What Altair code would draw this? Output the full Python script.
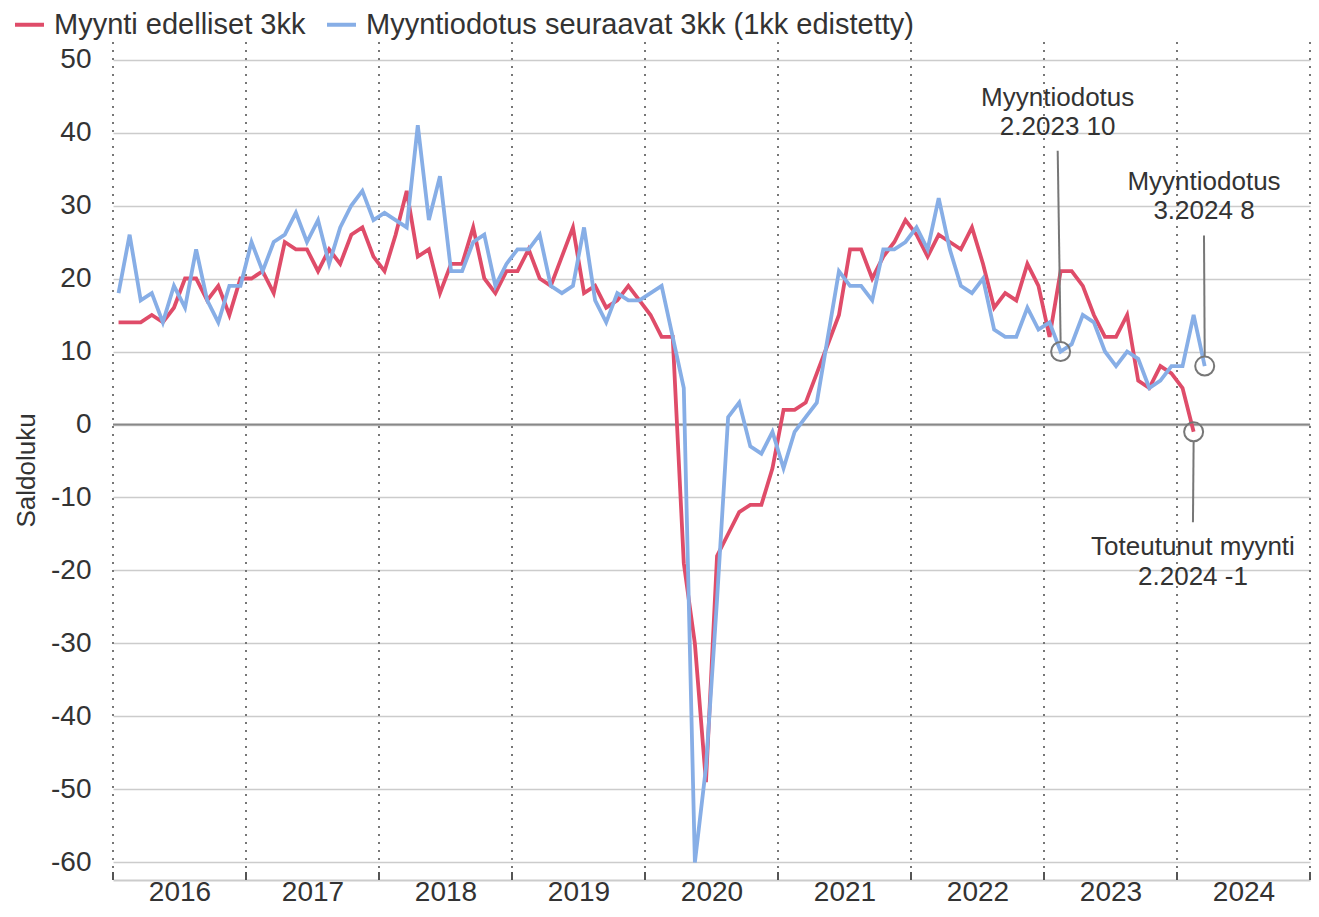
import altair as alt
import pandas as pd

# ---- data (monthly, Jan 2016 onwards) ----
red_values = [
    14, 14, 14, 15, 14, 16, 20, 20, 17, 19, 15, 20,          # 2016
    20, 21, 18, 25, 24, 24, 21, 24, 22, 26, 27, 23,          # 2017
    21, 26, 32, 23, 24, 18, 22, 22, 27, 20, 18, 21,          # 2018
    21, 24, 20, 19, 23, 27, 18, 19, 16, 17, 19, 17,          # 2019
    15, 12, 12, -19, -30, -49, -18, -15, -12, -11, -11, -6,  # 2020
    2, 2, 3, 7, 11, 15, 24, 24, 20, 23, 25, 28,              # 2021
    26, 23, 26, 25, 24, 27, 22, 16, 18, 17, 22, 19,          # 2022
    12, 21, 21, 19, 15, 12, 12, 15, 6, 5, 8, 7,              # 2023
    5, -1,                                                   # 2024
]
blue_values = [
    18, 26, 17, 18, 14, 19, 16, 24, 17, 14, 19, 19,          # 2016
    25, 21, 25, 26, 29, 25, 28, 22, 27, 30, 32, 28,          # 2017
    29, 28, 27, 41, 28, 34, 21, 21, 25, 26, 19, 22,          # 2018
    24, 24, 26, 19, 18, 19, 27, 17, 14, 18, 17, 17,          # 2019
    18, 19, 12, 5, -60, -47, -24, 1, 3, -3, -4, -1,          # 2020
    -6, -1, 1, 3, 12, 21, 19, 19, 17, 24, 24, 25,            # 2021
    27, 24, 31, 24, 19, 18, 20, 13, 12, 12, 16, 13,          # 2022
    14, 10, 11, 15, 14, 10, 8, 10, 9, 5, 6, 8,               # 2023
    8, 15, 8,                                                # 2024
]
series_names = ["Myynti edelliset 3kk", "Myyntiodotus seuraavat 3kk (1kk edistetty)"]
series_colors = ["#DF4C69", "#87AEE6"]

years = list(range(2016, 2026))
year_label_pos = [y + 0.5 for y in range(2016, 2025)]
y_ticks = list(range(-60, 60, 10))

# annotations
ann_t = [2023 + 1.5 / 12, 2024 + 2.5 / 12, 2024 + 1.5 / 12]
ann_v = [10, 8, -1]
ann_text_t = [2023.103, 2024.203, 2024.12]
ann_line_start = [11.25, 9.25, -2.25]
ann_line_end = [37.5, 25.9, -13.4]
ann_line1 = ["Myyntiodotus", "Myyntiodotus", "Toteutunut myynti"]
ann_line2 = ["2.2023 10", "3.2024 8", "2.2024 -1"]
ann_line1_v = [44.7, 33.2, -16.8]
ann_line2_v = [40.7, 29.2, -20.9]

# ---- tables ----
rows = []
for name, vals in zip(series_names, [red_values, blue_values]):
    for i, v in enumerate(vals):
        rows.append({"t": 2016 + (i + 0.5) / 12, "v": v, "s": name})
df = pd.DataFrame(rows)
df_years = pd.DataFrame({"yr": years})
df_ann = pd.DataFrame({"t": ann_t, "v": ann_v, "tt": ann_text_t,
                       "v1": ann_line_start, "v2": ann_line_end})
df_txt = pd.DataFrame({
    "tt": ann_text_t + ann_text_t,
    "v": ann_line1_v + ann_line2_v,
    "label": ann_line1 + ann_line2,
})

FONT = "Liberation Sans"
TXT = "#333333"
W, H = 1197, 838

x_scale = alt.Scale(domain=[2016, 2025.0], nice=False, zero=False)
y_scale = alt.Scale(domain=[-62.4, 52.4], nice=False, zero=False)
x_axis = alt.Axis(values=year_label_pos, labelExpr="floor(datum.value)", grid=False,
                  ticks=False, domainColor="#cccccc", domainWidth=2, labelFontSize=28,
                  labelFont=FONT, labelColor=TXT, labelPadding=12, labelBaseline="middle",
                  title=None)
y_axis = alt.Axis(values=y_ticks,
                  labelExpr="datum.value < 0 ? '-' + abs(datum.value) : '' + datum.value",
                  labelFontSize=28, labelFont=FONT, labelColor=TXT,
                  ticks=False, domain=False, gridColor="#cccccc", gridWidth=1.5,
                  labelPadding=22, title="Saldoluku", titleFontSize=26, titleFont=FONT,
                  titleFontWeight="normal", titleColor=TXT, titleX=-87, titleY=428,
                  titleAngle=270, titleAlign="center", titleBaseline="middle")

X = lambda f: alt.X(f, type="quantitative", scale=x_scale, axis=x_axis)
Y = lambda f: alt.Y(f, type="quantitative", scale=y_scale, axis=y_axis)

vlines = alt.Chart(df_years).mark_rule(color="#777777", strokeWidth=2, strokeDash=[2, 6]).encode(
    x=X("yr"), y=alt.value(0), y2=alt.value(H - 10))
ticks = alt.Chart(df_years).mark_rule(color="#555555", strokeWidth=2).encode(
    x=X("yr"), y=alt.value(H - 8), y2=alt.value(H))
zero = alt.Chart(pd.DataFrame({"z": [0]})).mark_rule(color="#888888", strokeWidth=2).encode(
    y=Y("z"))

lines = alt.Chart(df).mark_line(strokeWidth=3.8).encode(
    x=X("t"), y=Y("v"),
    color=alt.Color("s:N", scale=alt.Scale(domain=series_names, range=series_colors),
                    sort=series_names,
                    legend=alt.Legend(orient="none", legendX=-100, legendY=-34,
                                      direction="horizontal", title=None,
                                      symbolType="stroke", symbolStrokeWidth=4,
                                      symbolSize=841, labelFontSize=29, labelFont=FONT,
                                      labelColor=TXT, labelLimit=1000, columnPadding=13,
                                      labelOffset=8)),
    order=alt.Order("t:Q"),
)

ann_rules = alt.Chart(df_ann).mark_rule(color="#777777", strokeWidth=2).encode(
    x=X("t"), y=Y("v1"), x2="tt", y2="v2")
ann_circ = alt.Chart(df_ann).mark_point(shape="circle", size=361, filled=False,
                                        color="#777777", strokeWidth=2, opacity=1).encode(
    x=X("t"), y=Y("v"))
ann_text = alt.Chart(df_txt).mark_text(fontSize=26, font=FONT, color=TXT, align="center",
                                       baseline="middle").encode(
    x=X("tt"), y=Y("v"), text="label:N")

chart = alt.layer(vlines, ticks, zero, lines, ann_rules, ann_circ, ann_text).properties(
    width=W, height=H,
    autosize=alt.AutoSizeParams(type="none"),
    padding={"left": 105, "top": 34, "right": 1, "bottom": 28},
    background="white",
).configure_view(stroke=None)

chart.save("out.html", embed_options={"renderer": "svg", "actions": False})
